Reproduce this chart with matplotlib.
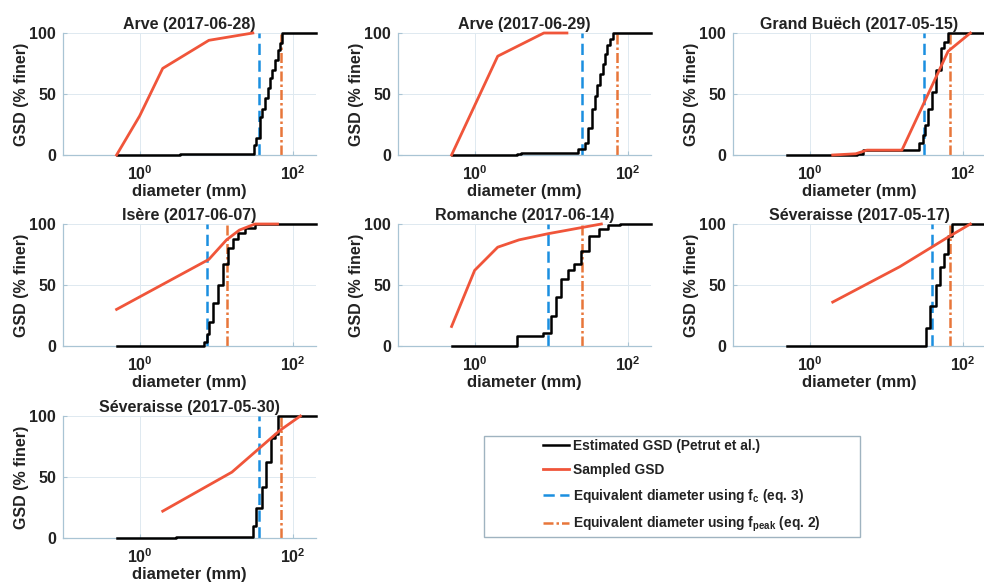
import matplotlib
matplotlib.use("Agg")
from matplotlib import pyplot as plt
from matplotlib.lines import Line2D
from matplotlib.patches import Rectangle

plt.rcParams['font.family'] = ['Liberation Sans', 'DejaVu Sans']
plt.rcParams['font.weight'] = 'bold'
plt.rcParams['mathtext.fontset'] = 'custom'
plt.rcParams['mathtext.rm'] = 'Liberation Sans:bold'
plt.rcParams['mathtext.bf'] = 'Liberation Sans:bold'
plt.rcParams['mathtext.it'] = 'Liberation Sans:bold'
plt.rcParams['mathtext.default'] = 'bf'

# panel titles
titles = ['Arve (2017-06-28)', 'Arve (2017-06-29)', 'Grand Buëch (2017-05-15)',
          'Isère (2017-06-07)', 'Romanche (2017-06-14)', 'Séveraisse (2017-05-17)',
          'Séveraisse (2017-05-30)']

# estimated GSD (Petrut et al.), diameter in mm / % finer
est_d = [
    [0.5, 3.4, 30, 31, 33, 37, 40, 43, 47, 50, 54, 58, 63, 68, 73, 200],
    [0.5, 3.6, 4, 22, 27.6, 30, 34, 37, 40, 43, 47, 50, 54, 58, 63, 200],
    [0.5, 4.1, 5, 26.8, 30, 31.8, 35, 40, 45, 52, 57, 64, 200],
    [0.5, 6.9, 7.5, 8.1, 9.1, 10.6, 12.3, 14.3, 16.6, 19.3, 23.6, 31.8, 200],
    [0.5, 3.6, 7.9, 9.9, 11.5, 13.4, 16.4, 20, 24.5, 31.5, 42.5, 55, 78, 200],
    [0.5, 33.4, 37.7, 44, 50, 56, 64, 73, 200],
    [0.5, 3, 30, 33, 39, 45, 52, 58, 64, 200],
]
est_p = [
    [0, 1, 1, 8, 14, 31, 38, 47, 55, 63, 70, 78, 86, 92, 100, 100],
    [0, 1, 2, 5, 10, 22, 38, 48, 57, 66, 75, 83, 90, 95, 100, 100],
    [0, 1, 4, 10, 16, 25, 38, 52, 70, 88, 93, 100, 100],
    [0, 3, 10, 20, 35, 50, 67, 80, 88, 93, 97, 100, 100],
    [0, 8, 11, 25, 40, 55, 62, 67, 78, 90, 96, 99, 100, 100],
    [0, 15, 33, 50, 65, 75, 90, 100, 100],
    [0, 0.5, 10, 25, 42, 62, 82, 85, 100, 100],
]

# sampled GSD
samp_d = [
    [0.5, 1, 2, 8, 30],
    [0.5, 2, 8, 16],
    [2, 4, 5.6, 16, 64, 125],
    [0.5, 8, 13.6, 20, 32, 63],
    [0.5, 1, 2, 3.8, 9, 24.5, 45],
    [2, 15, 67, 125],
    [2, 16, 67, 125],
]
samp_p = [
    [0, 32, 71, 94, 100],
    [0, 81, 100, 100],
    [0, 1, 4, 4, 85, 100],
    [30, 71, 87, 95, 100, 100],
    [16, 62, 81, 87, 92, 97, 100],
    [36, 65, 90, 100],
    [22, 54, 88, 100],
]

# equivalent diameters (mm)
d_fc = [36, 25, 31, 7.5, 9.0, 40, 36]
d_peak = [70, 72, 68, 13.9, 25, 68, 69]

BLACK = '#000000'
RED = '#f0553a'
BLUE = '#1a8fe0'
ORANGE = '#e8763a'
AXCOL = '#a9c4d4'
TXT = '#222222'
DASH = (0, (4.5, 2.2))
DASHDOT = (0, (4, 1.2, 1, 1.2))

W, H = 984, 584
lefts = [63, 398, 733]
tops = [33, 224, 416]
aw, ah = 253, 122

fig = plt.figure(figsize=(9.84, 5.84), dpi=100)

for i in range(7):
    r, c = divmod(i, 3)
    ax = fig.add_axes([lefts[c] / W, 1 - (tops[r] + ah) / H, aw / W, ah / H])
    ax.step(est_d[i], est_p[i], where='post', color=BLACK, lw=1.8, zorder=3, clip_on=False)
    ax.plot(samp_d[i], samp_p[i], color=RED, lw=2.0, zorder=4, clip_on=False)
    ax.axvline(d_fc[i], color=BLUE, lw=1.8, ls=DASH, zorder=2)
    ax.axvline(d_peak[i], color=ORANGE, lw=1.8, ls=DASHDOT, zorder=2)
    ax.set_xscale('log')
    ax.set_xlim(0.1, 200)
    ax.set_ylim(0, 100)
    ax.set_xticks([1, 100])
    ax.set_xticklabels(['$10^{0}$', '$10^{2}$'])
    ax.minorticks_off()
    ax.set_yticks([0, 50, 100])
    ax.grid(True, color='#dfe9f0', lw=0.7)
    ax.set_axisbelow(True)
    for s in ['top', 'right']:
        ax.spines[s].set_visible(False)
    for s in ['left', 'bottom']:
        ax.spines[s].set_color(AXCOL)
        ax.spines[s].set_linewidth(0.9)
    ax.tick_params(direction='in', length=3, color=AXCOL, labelsize=11.5,
                   labelcolor=TXT, pad=5)
    ax.tick_params(axis='x', pad=7)
    ax.set_title(titles[i], fontsize=11.5, fontweight='bold', color=TXT, pad=3)
    ax.set_xlabel('diameter (mm)', fontsize=12, fontweight='bold', color=TXT, labelpad=0.5)
    ax.set_ylabel('GSD (% finer)', fontsize=11.5, fontweight='bold', color=TXT, labelpad=0)

# legend box
bx0, bx1, by0, by1 = 484, 860, 436, 537
fig.patches.append(Rectangle((bx0 / W, 1 - by1 / H), (bx1 - bx0) / W, (by1 - by0) / H,
                             transform=fig.transFigure, fill=False,
                             edgecolor='#9fb3c0', lw=1.0))
handles = [
    Line2D([], [], color=BLACK, lw=1.8),
    Line2D([], [], color=RED, lw=2.0),
    Line2D([], [], color=BLUE, lw=1.8, ls=DASH),
    Line2D([], [], color=ORANGE, lw=1.8, ls=DASHDOT),
]
labels = ['Estimated GSD (Petrut et al.)', 'Sampled GSD',
          'Equivalent diameter using $f_{c}$ (eq. 3)',
          'Equivalent diameter using $f_{peak}$ (eq. 2)']
leg = fig.legend(handles, labels, loc='center',
                 bbox_to_anchor=((bx0 + bx1) / 2 / W + 0.01, 1 - (by0 + by1) / 2 / H),
                 frameon=False, fontsize=9.9, handlelength=1.9, handletextpad=0.3,
                 labelspacing=0.72)
for t in leg.get_texts():
    t.set_color(TXT)

fig.savefig('out.png', dpi=100)
